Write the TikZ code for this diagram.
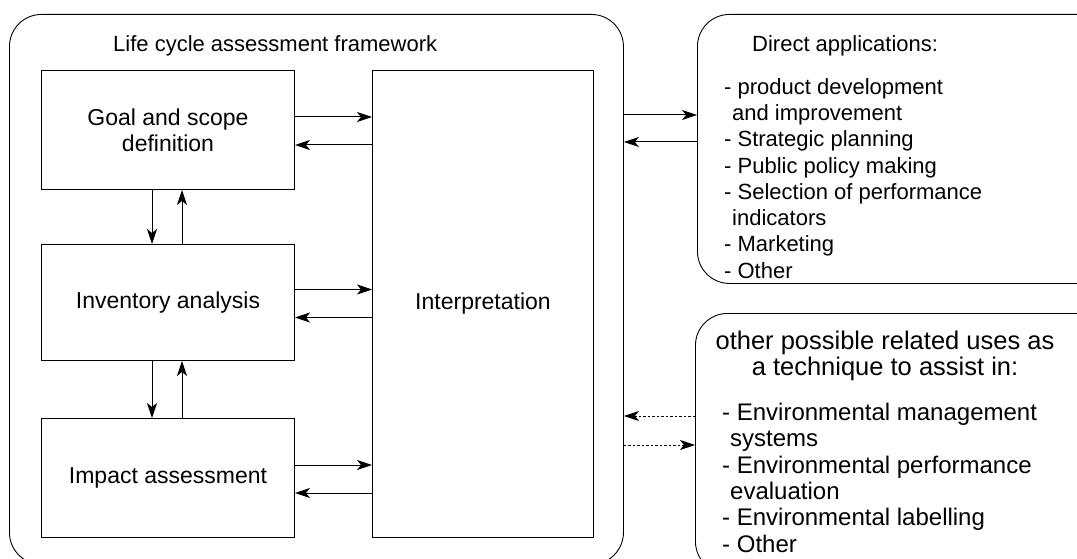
\documentclass[tikz,border=0pt]{standalone}
\usepackage{fontspec}
\setmainfont{Liberation Sans}
\usetikzlibrary{arrows.meta}
\begin{document}
\begin{tikzpicture}[x=1pt,y=-1pt,
  txt/.style={font=\fontsize{22}{26.3}\selectfont, inner sep=0pt},
  bigtxt/.style={font=\fontsize{24}{26.3}\selectfont, inner sep=0pt},
  headtxt/.style={font=\fontsize{25.5}{26.3}\selectfont, inner sep=0pt},
  frame/.style={draw, line width=0.9pt, rounded corners=32pt, inner sep=0pt, anchor=north west},
  stagebox/.style={draw, line width=1pt, inner sep=0pt, anchor=north west, align=center,
    font=\fontsize{23}{26}\selectfont},
  arr/.style={line width=1pt, -{Stealth[length=15pt,width=10pt,inset=4pt]}},
  dotarr/.style={arr, dash pattern=on 2.5pt off 2pt},
]
\useasboundingbox (0,0) rectangle (1077,559);
\clip (0,0) rectangle (1077,559);

% outer frames
\node[frame, minimum width=614pt, minimum height=550pt] (lca) at (9,14) {};
\node[frame, minimum width=420pt, minimum height=269pt] (direct) at (697,14) {};
\node[frame, minimum width=420pt, minimum height=260pt] (other) at (695,313) {};

\node[txt, anchor=base west] (title) at (113,52) {Life cycle assessment framework};

% phase boxes
\node[stagebox, minimum width=253pt, minimum height=119pt] (goal) at (41,70) {Goal and scope\\definition};
\node[stagebox, minimum width=253pt, minimum height=116pt] (inv) at (41,244) {Inventory analysis};
\node[stagebox, minimum width=253pt, minimum height=119pt] (imp) at (41,418) {Impact assessment};
\node[stagebox, minimum width=221pt, minimum height=467pt] (interp) at (372,70) {Interpretation};

% arrows between phases and interpretation
\foreach \b in {goal,inv,imp}{
  \draw[arr] ([yshift=13pt]\b.east) -- ([yshift=13pt]\b.east -| interp.west);
  \draw[arr] ([yshift=-15pt]\b.east -| interp.west) -- ([yshift=-15pt]\b.east);
}
\draw[arr] ([xshift=-16pt]goal.south) -- ([xshift=-16pt]goal.south |- inv.north);
\draw[arr] ([xshift=14pt]inv.north) -- ([xshift=14pt]inv.north |- goal.south);
\draw[arr] ([xshift=-16pt]inv.south) -- ([xshift=-16pt]inv.south |- imp.north);
\draw[arr] ([xshift=14pt]imp.north) -- ([xshift=14pt]imp.north |- inv.south);

% links to applications
\draw[arr] (lca.east |- 0,115) -- (direct.west |- 0,115);
\draw[arr] (direct.west |- 0,142) -- (lca.east |- 0,142);
\draw[dotarr] (other.west |- 0,416) -- (lca.east |- 0,416);
\draw[dotarr] (lca.east |- 0,445) -- (other.west |- 0,445);

% applications text
\node[txt, anchor=base west] (dtitle) at (752,52) {Direct applications:};
\node[txt, anchor=north west, align=left] (dlist) at (724,78) {- product development\\
\hspace*{8pt}and improvement\\- Strategic planning\\- Public policy making\\
- Selection of performance\\\hspace*{8pt}indicators\\- Marketing\\- Other};

\node[headtxt, align=center] (otitle) at (885,356) {other possible related uses as\\a technique to assist in:};
\node[bigtxt, anchor=north west, align=left] (olist) at (722,403) {- Environmental management\\
\hspace*{8pt}systems\\- Environmental performance\\\hspace*{8pt}evaluation\\
- Environmental labelling\\- Other};
\end{tikzpicture}
\end{document}
